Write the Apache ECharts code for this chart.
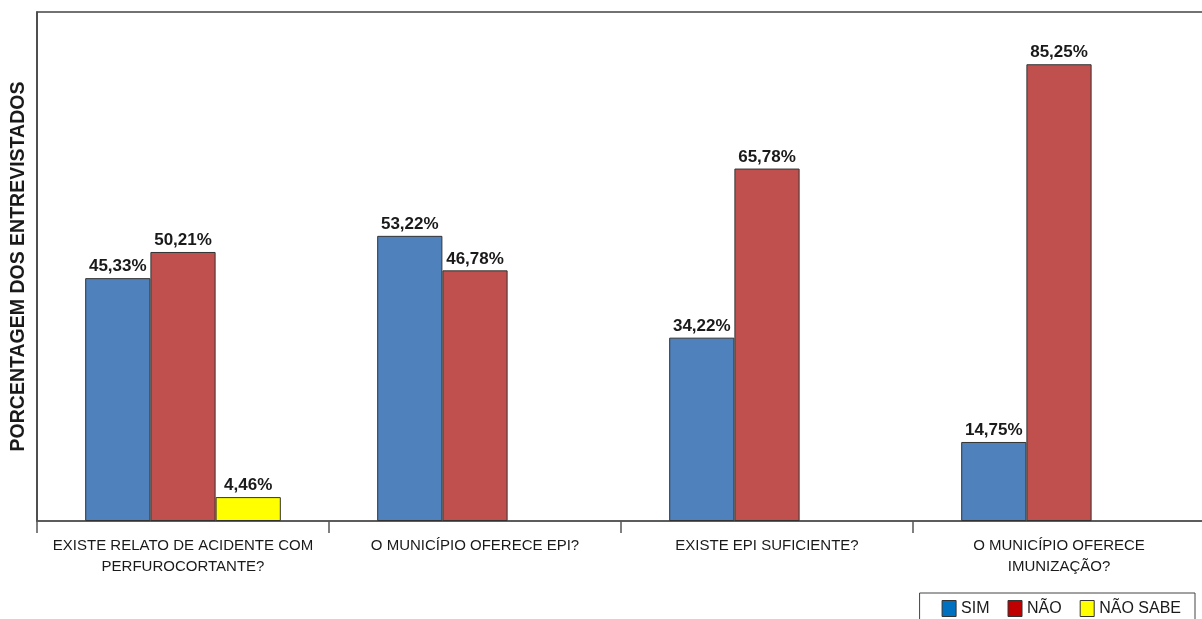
<!DOCTYPE html>
<html>
<head>
<meta charset="utf-8">
<script src="https://cdn.jsdelivr.net/npm/echarts@6/dist/echarts.min.js"></script>
<style>
  html, body { margin: 0; padding: 0; background: #fff; }
  #chart { width: 1202px; height: 619px; }
</style>
</head>
<body>
<div id="chart"></div>
<script>
// Perguntas (categorias do eixo X)
const categories = [
  'EXISTE RELATO DE ACIDENTE COM\nPERFUROCORTANTE?',
  'O MUNICÍPIO OFERECE EPI?',
  'EXISTE EPI SUFICIENTE?',
  'O MUNICÍPIO OFERECE\nIMUNIZAÇÃO?'
];
// Percentual de respostas por opção
const sim = [45.33, 53.22, 34.22, 14.75];
const nao = [50.21, 46.78, 65.78, 85.25];
const naoSabe = [4.46, null, null, null];

const seriesNames = ['SIM', 'NÃO', 'NÃO SABE'];
const barColors = ['#4F81BD', '#C0504D', '#FFFF00'];
const legendColors = ['#0070C0', '#C00000', '#FFFF00'];

const FONT = 'Liberation Sans, Arial, sans-serif';

const fmt = v => v.toFixed(2).replace('.', ',') + '%';

const chart = echarts.init(document.getElementById('chart'), null, { renderer: 'canvas' });

function barSeries(name, data, color) {
  return {
    name: name,
    type: 'bar',
    data: data,
    barGap: '0%',
    barCategoryGap: '33%',
    itemStyle: { color: color, borderColor: '#333', borderWidth: 1 },
    label: {
      show: true,
      position: 'top',
      distance: 3,
      fontFamily: FONT,
      fontWeight: 'bold',
      fontSize: 17,
      color: '#1a1a1a',
      formatter: p => fmt(p.value)
    }
  };
}

chart.setOption({
  animation: false,
  backgroundColor: '#fff',
  grid: {
    left: 37, top: 12, width: 1168, height: 509,
    outerBoundsMode: 'none',
    containLabel: false,
    show: true, borderColor: '#444', borderWidth: 1.5, backgroundColor: 'transparent'
  },
  legend: {
    right: 7, top: 593,
    orient: 'horizontal',
    itemWidth: 14, itemHeight: 16, itemGap: 18,
    padding: [7, 14, 10, 22],
    borderColor: '#444', borderWidth: 1,
    icon: 'rect',
    textStyle: { fontFamily: FONT, fontSize: 16, color: '#1a1a1a' },
    data: seriesNames.map((n, i) => ({
      name: n,
      itemStyle: { color: legendColors[i], borderColor: '#333', borderWidth: 1 }
    }))
  },
  xAxis: {
    type: 'category',
    data: categories,
    boundaryGap: true,
    axisLine: { lineStyle: { color: '#555', width: 1.5 } },
    axisTick: { show: true, length: 12, lineStyle: { color: '#555', width: 1.5 } },
    axisLabel: {
      fontFamily: FONT, fontSize: 15, color: '#1a1a1a',
      lineHeight: 21, margin: 14, interval: 0
    }
  },
  yAxis: {
    type: 'value',
    min: 0, max: 95,
    name: 'PORCENTAGEM DOS ENTREVISTADOS',
    nameLocation: 'middle',
    nameRotate: 90,
    nameGap: 8,
    nameTextStyle: { fontFamily: FONT, fontSize: 19.5, fontWeight: 'bold', color: '#1a1a1a' },
    axisLine: { show: true, lineStyle: { color: '#444', width: 1.5 } },
    axisTick: { show: false },
    axisLabel: { show: false },
    splitLine: { show: false }
  },
  series: [
    barSeries(seriesNames[0], sim, barColors[0]),
    barSeries(seriesNames[1], nao, barColors[1]),
    barSeries(seriesNames[2], naoSabe, barColors[2])
  ]
});
</script>
</body>
</html>
